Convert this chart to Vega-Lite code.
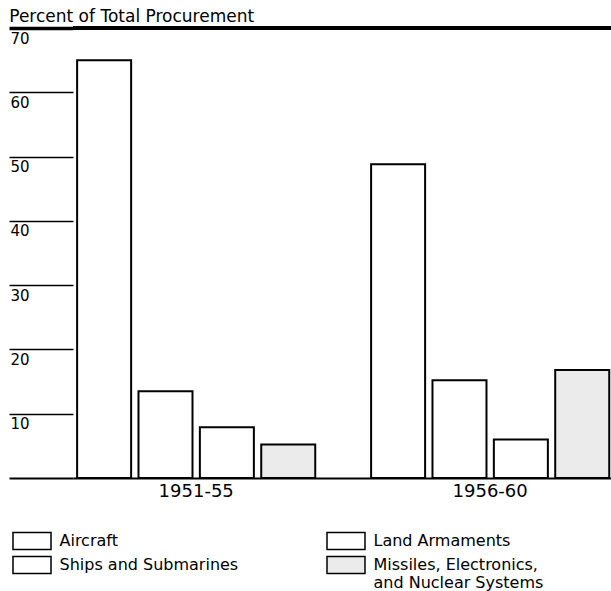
{
  "$schema": "https://vega.github.io/schema/vega-lite/v6.json",
  "width": 538,
  "height": 450,
  "autosize": {"type": "none"},
  "padding": {"left": 73, "top": 28, "right": 0, "bottom": 113},
  "background": "white",
  "title": {
    "text": "Percent of Total Procurement",
    "anchor": "start",
    "frame": "bounds",
    "font": "DejaVu Sans",
    "fontSize": 17,
    "fontWeight": "normal",
    "color": "black",
    "baseline": "alphabetic",
    "offset": -13,
    "dx": 2
  },
  "data": {
    "values": [
      {"period": "1951-55", "category": "Aircraft", "percent": 65.0},
      {"period": "1951-55", "category": "Ships and Submarines", "percent": 13.5},
      {"period": "1951-55", "category": "Land Armaments", "percent": 7.9},
      {"period": "1951-55", "category": "Missiles, Electronics, and Nuclear Systems", "percent": 5.2},
      {"period": "1956-60", "category": "Aircraft", "percent": 48.8},
      {"period": "1956-60", "category": "Ships and Submarines", "percent": 15.2},
      {"period": "1956-60", "category": "Land Armaments", "percent": 6.0},
      {"period": "1956-60", "category": "Missiles, Electronics, and Nuclear Systems", "percent": 16.8}
    ]
  },
  "layer": [
    {
      "mark": {"type": "bar", "stroke": "black", "strokeWidth": 2},
      "encoding": {
        "x": {
          "field": "period",
          "type": "nominal",
          "scale": {"paddingInner": 0.19, "paddingOuter": 0.01, "align": 0.7},
          "axis": {
            "title": null,
            "labelAngle": 0,
            "ticks": false,
            "domainColor": "black",
            "domainWidth": 2,
            "labelFont": "DejaVu Sans",
            "labelFontSize": 18,
            "labelColor": "black",
            "labelPadding": 4
          }
        },
        "xOffset": {
          "field": "category",
          "type": "nominal",
          "sort": ["Aircraft", "Ships and Submarines", "Land Armaments", "Missiles, Electronics, and Nuclear Systems"],
          "scale": {"paddingInner": 0.12, "paddingOuter": 0}
        },
        "y": {
          "field": "percent",
          "type": "quantitative",
          "scale": {"domain": [0, 70]},
          "axis": {
            "title": null,
            "values": [0, 10, 20, 30, 40, 50, 60, 70],
            "domain": false,
            "grid": false,
            "ticks": true,
            "tickSize": 64,
            "tickColor": "black",
            "tickWidth": {"condition": [{"test": "datum.value == 70", "value": 3.5}, {"test": "datum.value == 0", "value": 2}], "value": 1.5},
            "labelFlush": false,
            "labelOverlap": false,
            "labelAlign": "left",
            "labelBaseline": "top",
            "labelPadding": -1,
            "labelOffset": 3,
            "labelFont": "DejaVu Sans",
            "labelFontSize": 15,
            "labelColor": "black",
            "labelExpr": "datum.value == 0 ? '' : datum.label"
          }
        },
        "fill": {
          "field": "category",
          "type": "nominal",
          "scale": {
            "domain": ["Aircraft", "Ships and Submarines", "Land Armaments", "Missiles, Electronics, and Nuclear Systems"],
            "range": ["#ffffff", "#ffffff", "#ffffff", "#ebebeb"]
          },
          "legend": {
            "title": null,
            "orient": "none",
            "legendX": -50.5,
            "legendY": 503.5,
            "columns": 2,
            "columnPadding": 85,
            "rowPadding": 1,
            "padding": 0,
            "symbolType": "M-2.235,-1H2.235V1H-2.235Z",
            "symbolSize": 289,
            "symbolStrokeColor": "black",
            "symbolStrokeWidth": 1.5,
            "labelFont": "DejaVu Sans",
            "labelFontSize": 16,
            "labelColor": "black",
            "labelOffset": 18,
            "labelLimit": 300,
            "labelExpr": "datum.value == 'Missiles, Electronics, and Nuclear Systems' ? ['Missiles, Electronics,', ' and Nuclear Systems'] : datum.label"
          }
        }
      }
    },
    {
      "mark": {"type": "rule", "color": "black", "strokeWidth": 3.5},
      "encoding": {"y": {"datum": 70}}
    }
  ],
  "config": {"view": {"stroke": null}, "font": "DejaVu Sans"}
}
